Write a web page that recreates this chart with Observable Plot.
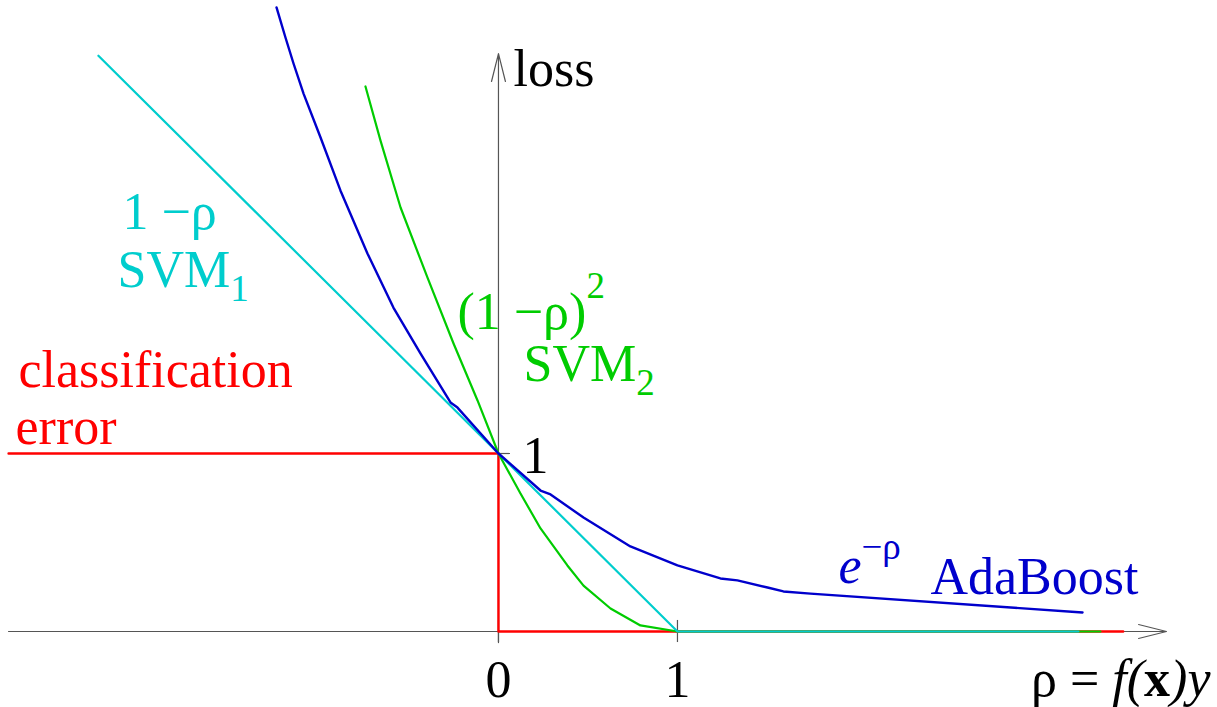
<!DOCTYPE html>
<html>
<head>
<meta charset="utf-8">
<script src="https://cdn.jsdelivr.net/npm/d3@7"></script>
<script src="https://cdn.jsdelivr.net/npm/@observablehq/plot@0.6"></script>
<style>
  html, body { margin: 0; padding: 0; background: #fff; }
  #chart svg { display: block; }
</style>
</head>
<body>
<div id="chart"></div>
<script>
// Loss functions of the margin ρ = f(x)y

// classification error (0/1 loss)
const errorRho  = [-2.737, 0, 0, 3.49];
const errorLoss = [1, 1, 0, 0];

// SVM1: hinge loss 1 − ρ
const svm1Rho  = [-2.235, 1, 3.24];
const svm1Loss = [3.235, 0, 0];

// SVM2: squared hinge loss (1 − ρ)²
const svm2Rho  = [-0.743, -0.659, -0.547, -0.397, -0.251, -0.117, 0, 0.123, 0.235, 0.385, 0.475, 0.626, 0.793, 1, 3.363];
const svm2Loss = [3.062, 2.758, 2.382, 1.989, 1.618, 1.298, 1, 0.775, 0.579, 0.371, 0.258, 0.129, 0.034, 0, 0];

// AdaBoost: exponential loss e^−ρ
const adaRho  = [-1.24, -1.19, -1.145, -1.089, -0.994, -0.883, -0.732, -0.587, -0.436, -0.268, -0.229, 0, 0.235, 0.291, 0.475, 0.737, 1.0, 1.24, 1.335, 1.503, 1.592, 1.743, 3.263];
const adaLoss = [3.506, 3.337, 3.191, 3.022, 2.775, 2.478, 2.124, 1.82, 1.562, 1.287, 1.258, 1, 0.792, 0.77, 0.64, 0.478, 0.371, 0.298, 0.287, 0.247, 0.225, 0.213, 0.107];

// axis ticks
const xTicks = [0, 1];
const yTicks = [1];
const xTickLabels = ["0", "1"];
const yTickLabels = ["1"];

const RED = "#ff0000", CYAN = "#00cdcd", GREEN = "#00cc00", BLUE = "#0000cc", AXIS = "#555555";
const FONT = "'Liberation Serif', 'Times New Roman', serif";

const zip = (xs, ys) => xs.map((x, i) => ({rho: x, loss: ys[i]}));

// formula annotations, written as styled runs
const formulaLabels = [
  {x: -2.101, y: 2.264, color: CYAN,  anchor: "start", runs: [{t: "1 −ρ"}]},
  {x: -2.128, y: 1.933, color: CYAN,  anchor: "start", runs: [{t: "SVM"}, {t: "1", size: 37, shift: 14}]},
  {x: -0.229, y: 1.702, color: GREEN, anchor: "start", runs: [{t: "(1 −ρ)"}, {t: "2", size: 37, shift: -31}]},
  {x: 0.140,  y: 1.410, color: GREEN, anchor: "start", runs: [{t: "SVM"}, {t: "2", size: 37, shift: 14}]},
  {x: -2.682, y: 1.371, color: RED,   anchor: "start", runs: [{t: "classification"}]},
  {x: -2.698, y: 1.056, color: RED,   anchor: "start", runs: [{t: "error"}]},
  {x: 1.899,  y: 0.275, color: BLUE,  anchor: "start", runs: [{t: "e", italic: true}, {t: "−ρ", size: 37, shift: -24}]},
  {x: 2.413,  y: 0.213, color: BLUE,  anchor: "start", runs: [{t: "AdaBoost"}]},
  {x: 3.978,  y: -0.36, color: "#000", anchor: "end", runs: [{t: "ρ = "}, {t: "f(", italic: true}, {t: "x", bold: true}, {t: ")y", italic: true}]},
  {x: 0.084,  y: 3.062, color: "#000", anchor: "start", runs: [{t: "loss"}]}
];

const textBase = {fontFamily: FONT, fontSize: 52, lineAnchor: "bottom"};

const formulaMarks = formulaLabels.map(l =>
  Plot.text([l], {
    x: "x", y: "y",
    text: d => d.runs.map(r => r.t).join(""),
    fill: l.color, textAnchor: l.anchor,
    ariaDescription: "formula",
    ...textBase
  })
);

const chart = Plot.plot({
  width: 1217,
  height: 707,
  marginTop: 0, marginRight: 0, marginBottom: 0, marginLeft: 0,
  x: {domain: [-2.782, 4.017], axis: null},
  y: {domain: [-0.427, 3.545], axis: null},
  style: {background: "#fff"},
  marks: [
    // axes with open arrowheads
    Plot.arrow([
      {x1: -2.737, y1: 0, x2: 3.732, y2: 0},
      {x1: 0, y1: -0.062, x2: 0, y2: 3.247}
    ], {x1: "x1", y1: "y1", x2: "x2", y2: "y2", stroke: AXIS, strokeWidth: 1.2, headAngle: 28, headLength: 36}),
    Plot.ruleX(xTicks, {x: d => d, y1: -0.062, y2: 0.062, stroke: AXIS, strokeWidth: 1.2}),
    Plot.ruleY(yTicks, {y: d => d, x1: 0, x2: 0.067, stroke: AXIS, strokeWidth: 1.2}),

    // loss curves
    Plot.line(zip(errorRho, errorLoss), {x: "rho", y: "loss", stroke: RED, strokeWidth: 2.4}),
    Plot.line(zip(svm2Rho, svm2Loss), {x: "rho", y: "loss", stroke: GREEN, strokeWidth: 2.2}),
    Plot.line(zip(svm1Rho, svm1Loss), {x: "rho", y: "loss", stroke: CYAN, strokeWidth: 2.2}),
    Plot.line(zip(adaRho, adaLoss), {x: "rho", y: "loss", stroke: BLUE, strokeWidth: 2.4}),

    // tick labels
    Plot.text(xTicks, {x: d => d, y: -0.37, text: (d, i) => xTickLabels[i], fill: "#000", textAnchor: "middle", ...textBase}),
    Plot.text(yTicks, {x: 0.134, y: d => d - 0.107, text: (d, i) => yTickLabels[i], fill: "#000", textAnchor: "start", ...textBase}),

    ...formulaMarks
  ]
});

// turn the formula labels into styled runs (italics, bold, sub/superscripts)
const svg = d3.select(chart);
svg.selectAll('g[aria-description="formula"] text').each(function (_, i) {
  const def = formulaLabels[i];
  if (!def) return;
  const el = d3.select(this);
  el.text(null);
  let current = 0;
  for (const r of def.runs) {
    const shift = r.shift || 0;
    const ts = el.append("tspan").text(r.t);
    if (shift !== current) ts.attr("dy", shift - current);
    current = shift;
    if (r.size) ts.attr("font-size", r.size);
    if (r.italic) ts.attr("font-style", "italic");
    if (r.bold) ts.attr("font-weight", "bold");
  }
});

document.getElementById("chart").appendChild(chart);
</script>
</body>
</html>
